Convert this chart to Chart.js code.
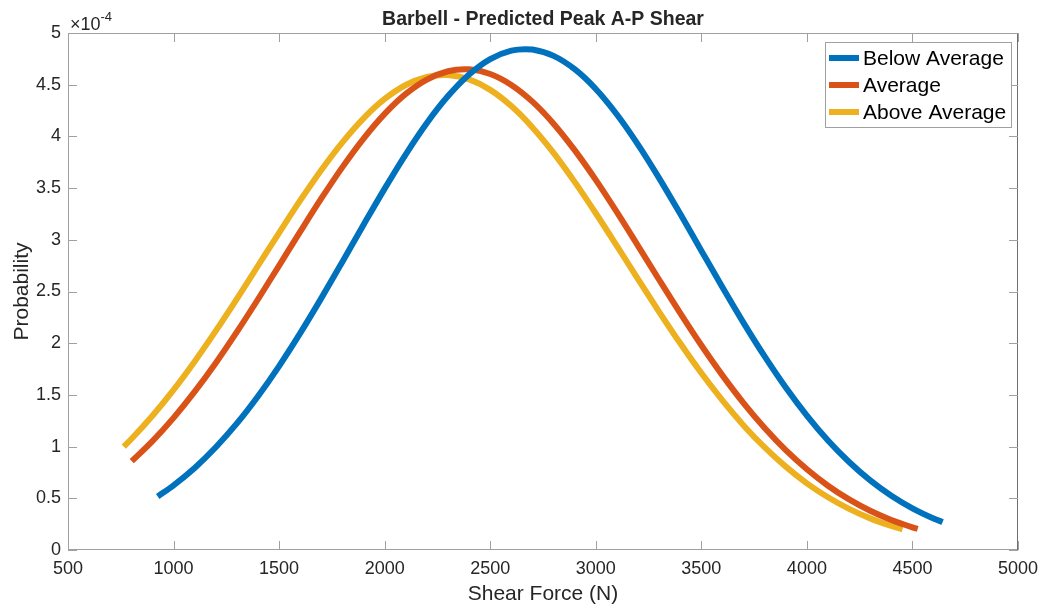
<!DOCTYPE html>
<html>
<head>
<meta charset="utf-8">
<script src="https://cdn.jsdelivr.net/npm/chart.js@4.4.1/dist/chart.umd.min.js"></script>
<style>
html,body{margin:0;padding:0;background:#fff;}
#wrap{width:1044px;height:607px;position:relative;}
</style>
</head>
<body>
<div id="wrap"><canvas id="c" width="1044" height="607"></canvas></div>
<script>
// ---- data (probability in units of 1e-4) ----
const belowX = [925, 1000, 1100, 1200, 1300, 1400, 1500, 1600, 1700, 1800, 1900, 2000, 2100, 2200, 2300, 2400, 2500, 2600, 2665, 2700, 2800, 2900, 3000, 3100, 3200, 3300, 3400, 3500, 3600, 3700, 3800, 3900, 4000, 4100, 4200, 4300, 4400, 4500, 4600, 4643];
const belowY = [0.518, 0.626, 0.794, 0.994, 1.224, 1.487, 1.779, 2.097, 2.436, 2.788, 3.145, 3.495, 3.827, 4.130, 4.390, 4.599, 4.748, 4.829, 4.844, 4.840, 4.779, 4.650, 4.459, 4.212, 3.921, 3.597, 3.251, 2.895, 2.541, 2.197, 1.872, 1.571, 1.300, 1.059, 0.851, 0.673, 0.525, 0.403, 0.305, 0.270];
const avgX = [802, 900, 1000, 1100, 1200, 1300, 1400, 1500, 1600, 1700, 1800, 1900, 2000, 2100, 2200, 2300, 2379, 2400, 2500, 2600, 2700, 2800, 2900, 3000, 3100, 3200, 3300, 3400, 3500, 3600, 3700, 3800, 3900, 4000, 4100, 4200, 4300, 4400, 4500, 4525];
const avgY = [0.859, 1.053, 1.278, 1.531, 1.809, 2.109, 2.425, 2.751, 3.079, 3.400, 3.703, 3.979, 4.218, 4.411, 4.550, 4.630, 4.650, 4.649, 4.604, 4.498, 4.336, 4.123, 3.867, 3.579, 3.267, 2.942, 2.614, 2.291, 1.980, 1.689, 1.421, 1.180, 0.966, 0.781, 0.622, 0.489, 0.379, 0.290, 0.219, 0.204];
const aboveX = [764, 800, 900, 1000, 1100, 1200, 1300, 1400, 1500, 1600, 1700, 1800, 1900, 2000, 2100, 2200, 2280, 2300, 2400, 2500, 2600, 2700, 2800, 2900, 3000, 3100, 3200, 3300, 3400, 3500, 3600, 3700, 3800, 3900, 4000, 4100, 4200, 4300, 4400, 4453];
const aboveY = [1.000, 1.074, 1.299, 1.549, 1.824, 2.119, 2.429, 2.749, 3.068, 3.381, 3.676, 3.943, 4.175, 4.362, 4.497, 4.575, 4.595, 4.594, 4.551, 4.450, 4.293, 4.087, 3.841, 3.560, 3.257, 2.941, 2.620, 2.304, 1.999, 1.711, 1.446, 1.205, 0.992, 0.806, 0.645, 0.510, 0.398, 0.306, 0.233, 0.200];
const seriesNames = ['Below Average', 'Average', 'Above Average'];
const seriesColors = ['#0072BD', '#D95319', '#EDB120'];
const xTicks = [500, 1000, 1500, 2000, 2500, 3000, 3500, 4000, 4500, 5000];
const yTicks = [0, 0.5, 1, 1.5, 2, 2.5, 3, 3.5, 4, 4.5, 5];
const titleText = 'Barbell - Predicted Peak A-P Shear';
const xLabel = 'Shear Force (N)';
const yLabel = 'Probability';

const FONT = '"Liberation Sans", Arial, Helvetica, sans-serif';
const TXT = '#262626';
const AXC = '#a0a0a0';

function pts(xs, ys){ return xs.map((x,i)=>({x:x, y:ys[i]})); }

const decor = {
  id: 'decor',
  afterDraw(chart){
    const ctx = chart.ctx, a = chart.chartArea;
    const xs = chart.scales.x, ys = chart.scales.y;
    ctx.save();
    // box
    ctx.lineWidth = 1;
    ctx.strokeStyle = AXC;
    ctx.beginPath();
    ctx.moveTo(a.left+0.5, a.top+0.5); ctx.lineTo(a.right-0.5, a.top+0.5);
    ctx.moveTo(a.left+0.5, a.top); ctx.lineTo(a.left+0.5, a.bottom);
    ctx.moveTo(a.left, a.bottom-0.5); ctx.lineTo(a.right, a.bottom-0.5);
    ctx.stroke();
    ctx.strokeStyle = '#707070';
    ctx.beginPath();
    ctx.moveTo(a.right-0.5, a.top); ctx.lineTo(a.right-0.5, a.bottom);
    ctx.stroke();
    // inward ticks
    ctx.strokeStyle = AXC;
    const TL = 9;
    ctx.beginPath();
    xTicks.forEach(v=>{
      const p = Math.round(xs.getPixelForValue(v))+0.5;
      ctx.moveTo(p, a.bottom); ctx.lineTo(p, a.bottom-TL);
      ctx.moveTo(p, a.top); ctx.lineTo(p, a.top+TL);
    });
    yTicks.forEach(v=>{
      const p = Math.round(ys.getPixelForValue(v))+0.5;
      ctx.moveTo(a.left, p); ctx.lineTo(a.left+TL, p);
      ctx.moveTo(a.right, p); ctx.lineTo(a.right-TL, p);
    });
    ctx.stroke();
    // exponent
    ctx.fillStyle = TXT;
    ctx.textBaseline = 'alphabetic';
    ctx.textAlign = 'left';
    ctx.font = '18px ' + FONT;
    ctx.fillText('\u00d710', 70, 30);
    const w = ctx.measureText('\u00d710').width;
    ctx.font = '13px ' + FONT;
    ctx.fillText('-4', 70 + w, 21);
    // title
    ctx.font = 'bold 19.5px ' + FONT;
    ctx.textAlign = 'center';
    ctx.fillText(titleText, (a.left+a.right)/2, 25);
    // x label
    ctx.font = '21px ' + FONT;
    ctx.fillText(xLabel, (a.left+a.right)/2, 600);
    // y label
    ctx.save();
    ctx.translate(28, (a.top+a.bottom)/2);
    ctx.rotate(-Math.PI/2);
    ctx.fillText(yLabel, 0, 0);
    ctx.restore();
    // legend
    const lx = 825, ly = 42, lw = 186, lh = 85;
    ctx.fillStyle = '#fff';
    ctx.fillRect(lx, ly, lw, lh);
    ctx.strokeStyle = '#a0a0a0';
    ctx.lineWidth = 1;
    ctx.strokeRect(lx+0.5, ly+0.5, lw, lh);
    ctx.font = '21px ' + FONT;
    ctx.textAlign = 'left';
    ctx.textBaseline = 'middle';
    seriesNames.forEach((n,i)=>{
      const y = 58 + i*27;
      ctx.strokeStyle = seriesColors[i];
      ctx.lineWidth = 6;
      ctx.beginPath(); ctx.moveTo(829, y); ctx.lineTo(859, y); ctx.stroke();
      ctx.fillStyle = '#000';
      ctx.fillText(n, 863, y+1);
    });
    ctx.restore();
  }
};

const ds = [pts(belowX, belowY), pts(avgX, avgY), pts(aboveX, aboveY)].map((d,i)=>({
  label: seriesNames[i], data: d, borderColor: seriesColors[i], backgroundColor: seriesColors[i],
  borderWidth: 6, pointRadius: 0, fill: false, cubicInterpolationMode: 'monotone', borderCapStyle: 'butt'
}));

new Chart(document.getElementById('c'), {
  type: 'line',
  data: { datasets: ds },
  options: {
    responsive: false, animation: false, devicePixelRatio: 1,
    layout: { padding: { top: 33, right: 26, left: 0, bottom: 0 } },
    plugins: { legend: { display: false }, tooltip: { enabled: false }, title: { display: false } },
    scales: {
      x: {
        type: 'linear', min: 500, max: 5000,
        afterFit(s){ s.height = 57; s.paddingLeft = 0; s.paddingRight = 0; },
        afterBuildTicks(s){ s.ticks = xTicks.map(v=>({value:v})); },
        grid: { display: false, drawTicks: false }, border: { display: false },
        ticks: { color: TXT, font: { family: FONT, size: 18 }, padding: 8, maxRotation: 0, autoSkip: false,
                 callback: (v)=>String(v) }
      },
      y: {
        type: 'linear', min: 0, max: 5,
        afterFit(s){ s.width = 68; s.paddingTop = 0; s.paddingBottom = 0; },
        afterBuildTicks(s){ s.ticks = yTicks.map(v=>({value:v})); },
        grid: { display: false, drawTicks: false }, border: { display: false },
        ticks: { color: TXT, font: { family: FONT, size: 18 }, padding: 7, autoSkip: false,
                 callback: (v)=>String(v) }
      }
    }
  },
  plugins: [decor]
});
</script>
</body>
</html>
